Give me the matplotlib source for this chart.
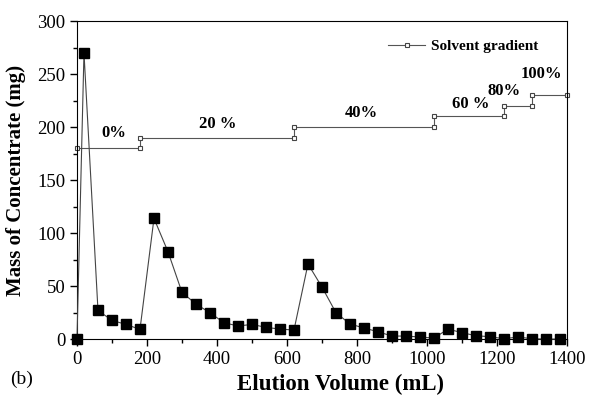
import numpy as np
import matplotlib.pyplot as plt
from matplotlib.ticker import MultipleLocator

plt.rcParams['font.family'] = ['Liberation Serif', 'DejaVu Serif']

# Масса концентрата по объёму элюирования
vol = [0, 20, 60, 100, 140, 180, 220, 260, 300, 340, 380, 420, 460, 500, 540,
       580, 620, 660, 700, 740, 780, 820, 860, 900, 940, 980, 1020, 1060, 1100,
       1140, 1180, 1220, 1260, 1300, 1340, 1380]
mass = [0, 270, 27, 17.6, 13.8, 9.1, 113.8, 82.4, 44, 33, 24.8, 15.4, 12.3, 13.8,
        11, 9.4, 8.5, 70.8, 49, 24.8, 14.2, 10.4, 6.9, 2.8, 2.8, 1.9, 0.9, 9.4,
        6, 3.1, 2.2, 0.3, 1.9, 0.3, 0, 0]

# Градиент растворителя (ступеньки)
grad_x = [0, 180, 180, 620, 620, 1020, 1020, 1220, 1220, 1300, 1300, 1400]
grad_y = [180, 180, 190, 190, 200, 200, 210, 210, 220, 220, 230, 230]

# Подписи ступенек
step_labels = ['0%', '20 %', '40%', '60 %', '80%', '100%']
step_x = [106, 402, 811, 1126, 1221, 1326]
step_y = [194, 203, 213, 222, 234, 250]

fig = plt.figure(figsize=(6.1, 3.97), dpi=100)
ax = fig.add_axes([0.1262, 0.146, 0.8033, 0.801])

ax.plot(vol, mass, color='#444444', linewidth=0.8, marker='s', markersize=7.5,
        markerfacecolor='black', markeredgecolor='black', zorder=3, clip_on=False)
ax.plot(grad_x, grad_y, color='#555555', linewidth=0.8, marker='s', markersize=3.2,
        markerfacecolor='white', markeredgecolor='#444444', markeredgewidth=0.8,
        label='Solvent gradient', zorder=2, clip_on=False)

for t, x, y in zip(step_labels, step_x, step_y):
    ax.text(x, y, t, ha='center', va='center', fontsize=12, fontweight='bold')

ax.set_xlim(0, 1400)
ax.set_ylim(0, 300)
ax.xaxis.set_major_locator(MultipleLocator(200))
ax.xaxis.set_minor_locator(MultipleLocator(100))
ax.yaxis.set_major_locator(MultipleLocator(50))
ax.yaxis.set_minor_locator(MultipleLocator(25))
ax.tick_params(which='both', direction='out', labelsize=13.5, width=1)
ax.tick_params(which='major', length=5)
ax.tick_params(which='minor', length=3)
ax.tick_params(top=False, right=False)

ax.set_xlabel('Elution Volume (mL)', fontsize=16.5, fontweight='bold')
ax.xaxis.set_label_coords(0.537, -0.108)
ax.set_ylabel('Mass of Concentrate (mg)', fontsize=15, fontweight='bold')
ax.yaxis.set_label_coords(-0.105, 0.5)
fig.text(0.016, 0.032, '(b)', fontsize=14)

leg = ax.legend(loc='upper right', bbox_to_anchor=(0.97, 0.985), frameon=False,
                prop={'weight': 'bold', 'size': 11}, handlelength=2.4,
                handletextpad=0.4)

plt.savefig('out.png', dpi=100)
